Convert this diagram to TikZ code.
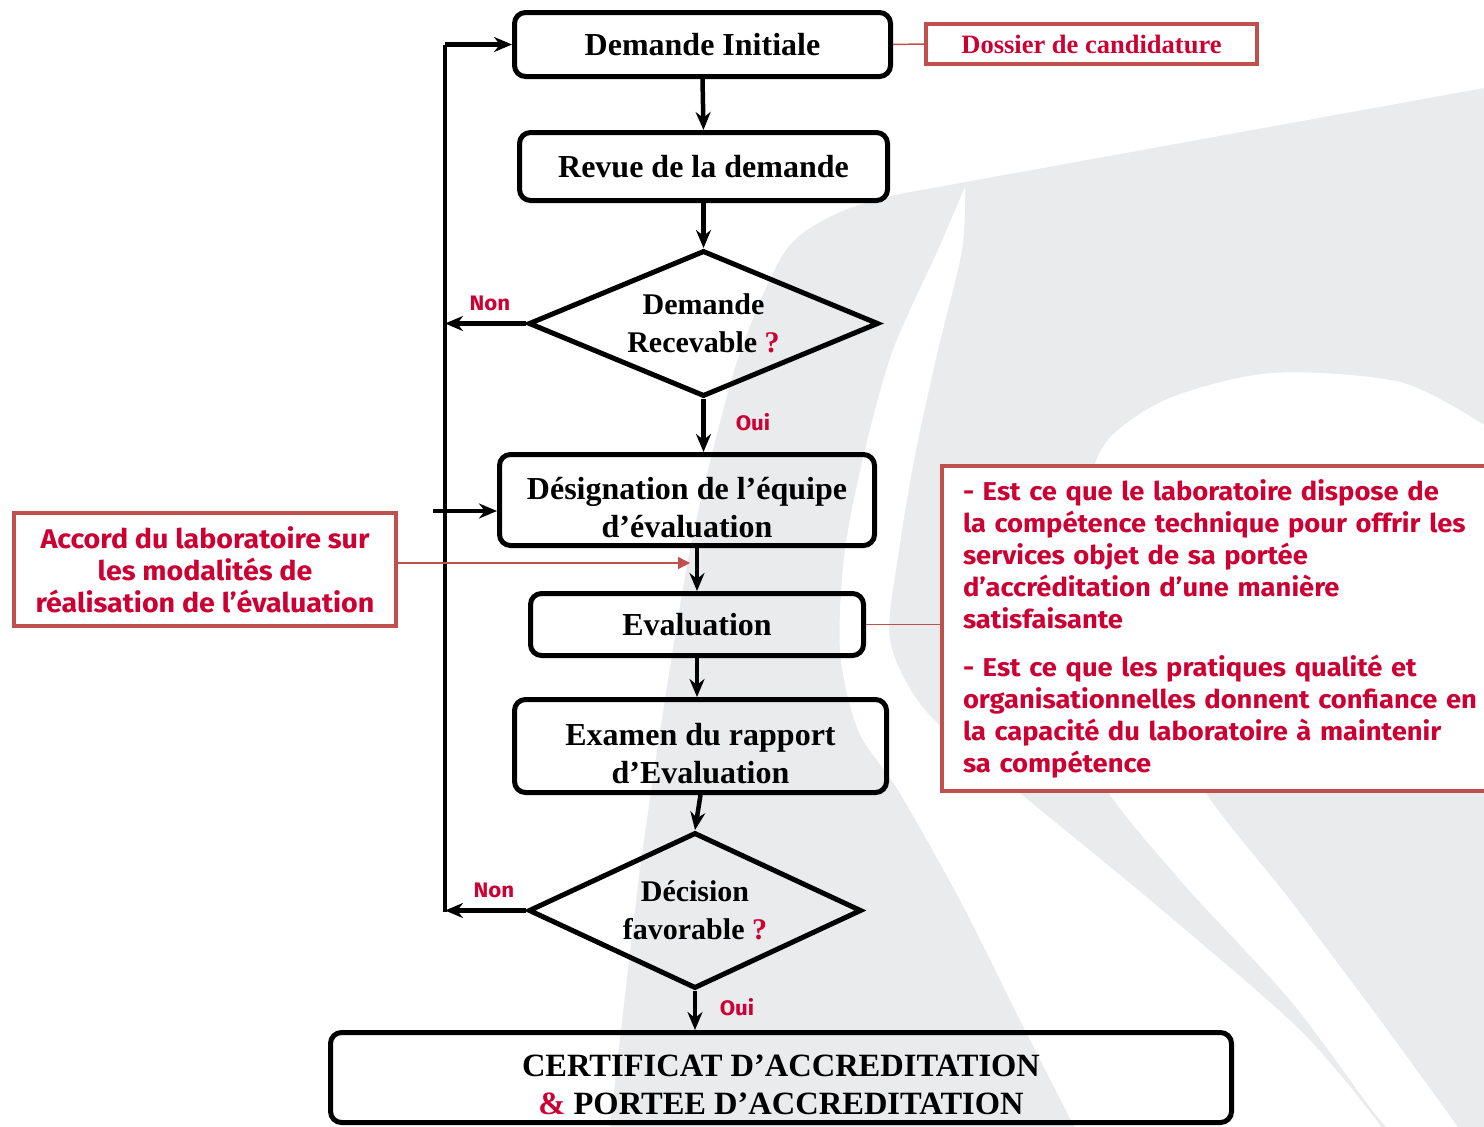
\documentclass[tikz,border=0pt]{standalone}
\usepackage{fontspec}
\setmainfont{Liberation Serif}
\newfontfamily\manuscrit{Fira Sans}[FakeStretch=1.06]
\usetikzlibrary{shapes.geometric,arrows.meta}
\definecolor{rougetexte}{RGB}{204,0,51}
\definecolor{rougecadre}{RGB}{192,80,77}
\definecolor{fondgris}{RGB}{234,235,237}
\tikzset{
  etape/.style={draw, line width=5pt, rounded corners=11pt, align=center, inner sep=0pt,
    font=\bfseries\fontsize{32}{38}\selectfont},
  deuxlignes/.style={text height=74pt, text depth=0pt},
  choix/.style={draw, diamond, aspect=2.4, line width=5pt, align=center, inner sep=0pt,
    font=\bfseries\fontsize{30}{38}\selectfont},
  fleche/.style={line width=4.5pt, -{Stealth[length=18pt,width=15pt]}},
  cadrerouge/.style={draw=rougecadre, line width=4pt, fill=white, text=rougetexte},
  lienrouge/.style={draw=rougecadre, line width=1.5pt},
  reponse/.style={text=rougetexte, font=\manuscrit\bfseries\fontsize{21}{24}\selectfont},
  remarque/.style={font=\manuscrit\bfseries\fontsize{27}{32}\selectfont},
}
\begin{document}
\begin{tikzpicture}[x=1pt,y=-1pt]
       \useasboundingbox (0,0) rectangle (1484,1127);
       \clip (0,0) rectangle (1484,1127);
       % logo en fond
       \fill[fondgris] (905,193) -- (1484,88) -- (1484,1127) -- (610,1127)
         -- plot[smooth] coordinates {(610,1127) (640,870) (668,680) (690,550) (713,450) (741,350) (786,250) (840,212) (905,193)} -- cycle;
       \fill[white] plot[smooth] coordinates {(965,187) (938,250) (893,350) (865,450) (845,550) (840,650) (858,730) (898,790) (960,900) (1020,1020) (1076,1130)}
         -- (1380,1130)
         -- plot[smooth] coordinates {(1380,1125) (1300,1030) (1150,900) (1004,780) (925,710) (890,640) (899,550) (916,450) (938,350) (962,250) (965,187)} -- cycle;
       \fill[white] plot[smooth] coordinates {(1484,425) (1400,382) (1272,373) (1170,398) (1108,440) (1085,500) (1080,600) (1088,700) (1101,780) (1180,880) (1290,1000) (1372,1110) (1390,1130)}
         -- (1460,1130)
         -- plot[smooth] coordinates {(1460,1130) (1380,1020) (1290,900) (1198,780) (1190,700) (1250,610) (1484,540)} -- cycle;

       % etapes
       \node[etape, minimum width=376pt, minimum height=64pt] (init) at (702.5,44.5) {Demande Initiale};
       \node[etape, minimum width=368pt, minimum height=68pt] (revue) at (703.5,166.5) {Revue de la demande};
       \node[choix, minimum width=350pt, minimum height=146pt] (recv) at (703.5,323.5) {Demande\\Recevable {\color{rougetexte}?}};
       \node[etape, deuxlignes, minimum width=375pt, minimum height=91pt] (desig) at (687,500) {Désignation de l’équipe\\d’évaluation};
       \node[etape, minimum width=333pt, minimum height=62pt] (eval) at (697,624.5) {Evaluation};
       \node[etape, deuxlignes, minimum width=372pt, minimum height=93pt] (examen) at (700.5,746) {Examen du rapport\\d’Evaluation};
       \node[choix, minimum width=333pt, minimum height=156pt] (decis) at (695,910.5) {Décision\\favorable {\color{rougetexte}?}};
       \node[etape, deuxlignes, minimum width=901pt, minimum height=90pt, font=\bfseries\fontsize{32.5}{38}\selectfont] (certif) at (781,1077.5) {CERTIFICAT D’ACCREDITATION\\{\color{rougetexte}\&} PORTEE D’ACCREDITATION};

       % cadres rouges
       \node[cadrerouge, minimum width=331pt, minimum height=40pt, font=\bfseries\fontsize{26.5}{30}\selectfont] (dossier) at (1091.5,44) {Dossier de candidature};
       \node[cadrerouge, remarque, align=center, minimum width=382pt, minimum height=113pt, inner sep=0pt] (accord) at (205,569.5) {Accord du laboratoire sur\\les modalités de\\réalisation de l’évaluation};
       \node[cadrerouge, remarque, font=\manuscrit\bfseries\fontsize{25.8}{32}\selectfont, anchor=north west, text width=560pt, align=left, inner xsep=21pt, minimum height=325pt] (questions) at (940,464) {- Est ce que le laboratoire dispose de\\la compétence technique pour offrir les\\services objet de sa portée\\d’accréditation d’une manière\\satisfaisante\\[16pt]- Est ce que les pratiques qualité et\\organisationnelles donnent confiance en\\la capacité du laboratoire à maintenir\\sa compétence};

       % reponses
       \node[reponse] (nonA) at (490,303) {Non};
       \node[reponse] (ouiA) at (753,422) {Oui};
       \node[reponse] (nonB) at (494,890) {Non};
       \node[reponse] (ouiB) at (737,1007) {Oui};

       % fleches
       \coordinate (retourHaut) at (445,44.5);
       \coordinate (retourBas) at (445,912);
       \coordinate (amorce) at (433,511);
       \coordinate (pointe) at (690,563);
       \draw[line width=4.5pt] (retourBas) -- (retourHaut);
       \draw[fleche] (retourHaut) -- (init.west);
       \draw[fleche] (init.south) -- (revue.north);
       \draw[fleche] (revue.south) -- (recv.north);
       \draw[fleche] (recv.west) -- (recv.west -| retourBas);
       \draw[fleche] (recv.south) -- (recv.south |- desig.north);
       \draw[fleche] (amorce) -- (amorce -| desig.west);
       \draw[fleche] (eval.north |- desig.south) -- (eval.north);
       \draw[fleche] (eval.south) -- (eval.south |- examen.north);
       \draw[fleche] (examen.south) -- (decis.north);
       \draw[fleche] (decis.west) -- (decis.west -| retourBas);
       \draw[fleche] (decis.south) -- (decis.south |- certif.north);
       \draw[lienrouge] (init.east) -- (dossier.west);
       \draw[lienrouge] (eval.east) -- (eval.east -| questions.west);
       \draw[lienrouge, -{Triangle[length=12pt,width=12pt]}] (accord.east |- pointe) -- (pointe);
\end{tikzpicture}
\end{document}
